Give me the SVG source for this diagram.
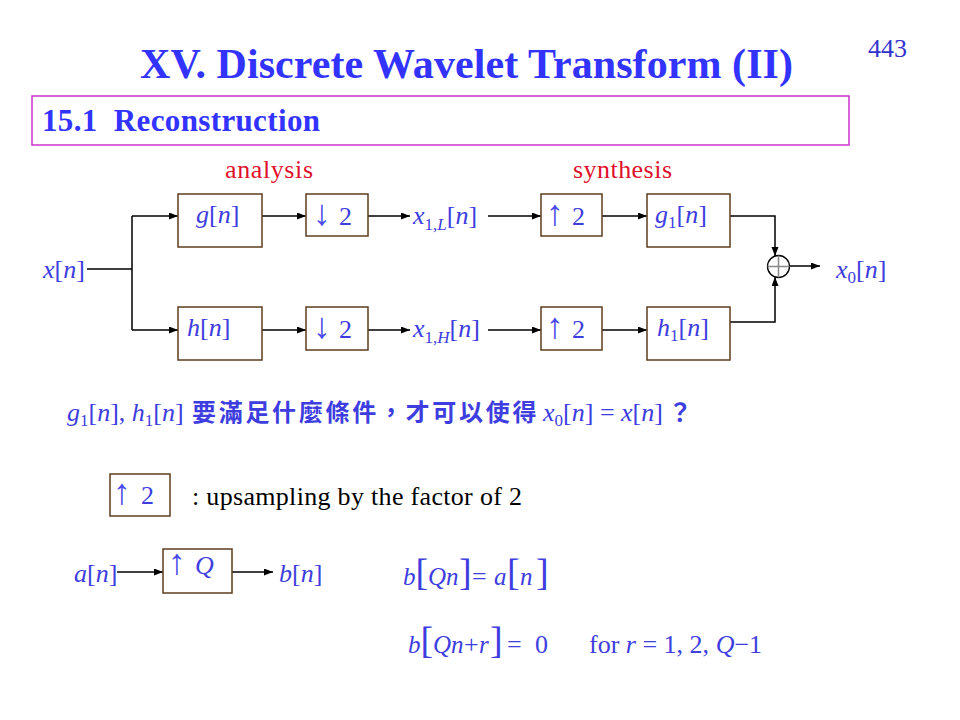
<svg xmlns="http://www.w3.org/2000/svg" width="960" height="720" viewBox="0 0 960 720">
<defs>
<style>
text{font-family:"Liberation Serif","Times New Roman",serif;}
.m{fill:#3d3de0;font-size:26px;}
.i{font-style:italic;}
.box{fill:#fff;stroke:#5c3d1e;stroke-width:1.5;}
.ln{fill:none;stroke:#000;stroke-width:1.5;}
.ar{marker-end:url(#ah);}
.red{fill:#e0102a;font-size:26px;}
.cjk{font-family:"Noto Sans CJK TC","Noto Sans CJK SC",sans-serif;font-weight:bold;font-size:24px;letter-spacing:2.7px;}
.big{font-size:38px;font-style:normal;}
.arw{font-size:36px;fill:#4a4aea;}
.eq{fill:#3d3de0;font-size:25px;}
</style>
<marker id="ah" markerUnits="userSpaceOnUse" markerWidth="10" markerHeight="8" refX="9" refY="3.5" orient="auto">
<path d="M0,0 L9,3.5 L0,7 z" fill="#000"/>
</marker>
</defs>
<rect width="960" height="720" fill="#fff"/>

<g id="title">
<text x="140" y="78" font-size="42" font-weight="bold" fill="#3333ff" textLength="653">XV. Discrete Wavelet Transform (II)</text>
<text x="868" y="57" font-size="26" fill="#3333cc">443</text>
</g>
<g id="subtitle">
<rect x="32" y="96" width="817" height="49" fill="none" stroke="#cc33cc" stroke-width="1.5"/>
<text x="42" y="131" font-size="31" font-weight="bold" fill="#3333ff" xml:space="preserve" textLength="278">15.1  Reconstruction</text>
</g>

<g id="labels">
<text class="red" x="225" y="178" textLength="88">analysis</text>
<text class="red" x="573" y="178" textLength="99">synthesis</text>
</g>

<g id="connectors">
<path class="ln" d="M87,269 H132 M132,216 V330"/>
<path class="ln ar" d="M132,216 H178"/>
<path class="ln ar" d="M132,330 H178"/>
<path class="ln ar" d="M262,216 H306"/>
<path class="ln ar" d="M262,330 H306"/>
<path class="ln ar" d="M368,216 H410"/>
<path class="ln ar" d="M368,330 H410"/>
<path class="ln ar" d="M488,216 H541"/>
<path class="ln ar" d="M488,330 H541"/>
<path class="ln ar" d="M602,216 H647"/>
<path class="ln ar" d="M602,330 H647"/>
<path class="ln ar" d="M730,216 H775 V256"/>
<path class="ln ar" d="M730,322 H775 V277"/>
<path class="ln ar" d="M790,266 H820"/>
<path class="ln ar" d="M117,572 H163"/>
<path class="ln ar" d="M232,572 H273"/>
</g>

<g id="xn"><text class="m" x="43" y="278"><tspan class="i">x</tspan>[<tspan class="i">n</tspan>]</text></g>

<g id="g-filter">
<rect class="box" x="178" y="194" width="84" height="53"/>
<text class="m" x="196" y="223"><tspan class="i">g</tspan>[<tspan class="i">n</tspan>]</text>
</g>
<g id="h-filter">
<rect class="box" x="178" y="307" width="84" height="53"/>
<text class="m" x="187" y="336"><tspan class="i">h</tspan>[<tspan class="i">n</tspan>]</text>
</g>
<g id="down-top">
<rect class="box" x="306" y="194" width="62" height="42"/>
<text class="m" y="225"><tspan class="arw" x="313">↓</tspan><tspan x="339">2</tspan></text>
</g>
<g id="down-bottom">
<rect class="box" x="306" y="307" width="62" height="43"/>
<text class="m" y="338"><tspan class="arw" x="313">↓</tspan><tspan x="339">2</tspan></text>
</g>
<g id="x1L"><text class="m" x="413" y="224"><tspan class="i">x</tspan><tspan font-size="17" dy="6">1,</tspan><tspan font-size="17" class="i">L</tspan><tspan dy="-6">[</tspan><tspan class="i">n</tspan>]</text></g>
<g id="x1H"><text class="m" x="413" y="337"><tspan class="i">x</tspan><tspan font-size="17" dy="6">1,</tspan><tspan font-size="17" class="i">H</tspan><tspan dy="-6">[</tspan><tspan class="i">n</tspan>]</text></g>
<g id="up-top">
<rect class="box" x="541" y="194" width="61" height="42"/>
<text class="m" y="225"><tspan class="arw" x="546">↑</tspan><tspan x="572">2</tspan></text>
</g>
<g id="up-bottom">
<rect class="box" x="541" y="307" width="61" height="43"/>
<text class="m" y="338"><tspan class="arw" x="546">↑</tspan><tspan x="572">2</tspan></text>
</g>
<g id="g1-filter">
<rect class="box" x="647" y="194" width="83" height="53"/>
<text class="m" x="655" y="223"><tspan class="i">g</tspan><tspan font-size="17" dy="5">1</tspan><tspan dy="-5">[</tspan><tspan class="i">n</tspan>]</text>
</g>
<g id="h1-filter">
<rect class="box" x="647" y="307" width="83" height="53"/>
<text class="m" x="657" y="336"><tspan class="i">h</tspan><tspan font-size="17" dy="5">1</tspan><tspan dy="-5">[</tspan><tspan class="i">n</tspan>]</text>
</g>
<g id="adder">
<circle cx="778.5" cy="266.5" r="11" fill="#fff" stroke="#000" stroke-width="1.3"/>
<path d="M767.5,266.5 H789.5 M778.5,255.5 V277.5" stroke="#888" stroke-width="1.5"/>
</g>
<g id="x0n"><text class="m" x="836" y="278"><tspan class="i">x</tspan><tspan font-size="17" dy="5">0</tspan><tspan dy="-5">[</tspan><tspan class="i">n</tspan>]</text></g>

<g id="question">
<text class="m" x="67" y="421"><tspan class="i">g</tspan><tspan font-size="17" dy="5">1</tspan><tspan dy="-5">[</tspan><tspan class="i">n</tspan>], <tspan class="i">h</tspan><tspan font-size="17" dy="5">1</tspan><tspan dy="-5">[</tspan><tspan class="i">n</tspan>]</text>
<text class="m cjk" x="192" y="421">要滿足什麼條件，才可以使得</text>
<text class="m" x="543" y="421"><tspan class="i">x</tspan><tspan font-size="17" dy="5">0</tspan><tspan dy="-5">[</tspan><tspan class="i">n</tspan>] = <tspan class="i">x</tspan>[<tspan class="i">n</tspan>]</text>
<text class="m cjk" x="668" y="421">？</text>
</g>

<g id="legend">
<rect class="box" x="110" y="474" width="60" height="42"/>
<text class="m" y="504"><tspan class="arw" x="113">↑</tspan><tspan x="141">2</tspan></text>
<text x="192" y="505" font-size="26" fill="#000" textLength="330">: upsampling by the factor of 2</text>
</g>

<g id="an"><text class="m" x="74" y="582"><tspan class="i">a</tspan>[<tspan class="i">n</tspan>]</text></g>
<g id="upQ">
<rect class="box" x="163" y="549" width="69" height="44"/>
<text class="m" y="574"><tspan class="arw" x="168">↑</tspan><tspan x="195" class="i">Q</tspan></text>
</g>
<g id="bn"><text class="m" x="279" y="582"><tspan class="i">b</tspan>[<tspan class="i">n</tspan>]</text></g>

<g id="eq1">
<text class="eq" y="585"><tspan x="403" class="i">b</tspan><tspan x="415.5" class="big">[</tspan><tspan x="428" class="i">Q</tspan><tspan x="446" class="i">n</tspan><tspan x="459" class="big">]</tspan><tspan x="472" font-size="26">=</tspan><tspan x="494" class="i">a</tspan><tspan x="507" class="big">[</tspan><tspan x="520" class="i">n</tspan><tspan x="536" class="big">]</tspan></text>
</g>
<g id="eq2">
<text class="eq" y="653"><tspan x="408" class="i">b</tspan><tspan x="420.5" class="big">[</tspan><tspan x="433" class="i">Q</tspan><tspan x="451" class="i">n</tspan><tspan x="464" font-size="26">+</tspan><tspan x="479" class="i">r</tspan><tspan x="490" class="big">]</tspan><tspan x="507" font-size="26">=</tspan><tspan x="535" font-size="26">0</tspan></text>
<text class="m" x="589" y="653" font-size="27">for <tspan class="i">r</tspan> = 1, 2, <tspan class="i">Q</tspan>−1</text>
</g>
</svg>
